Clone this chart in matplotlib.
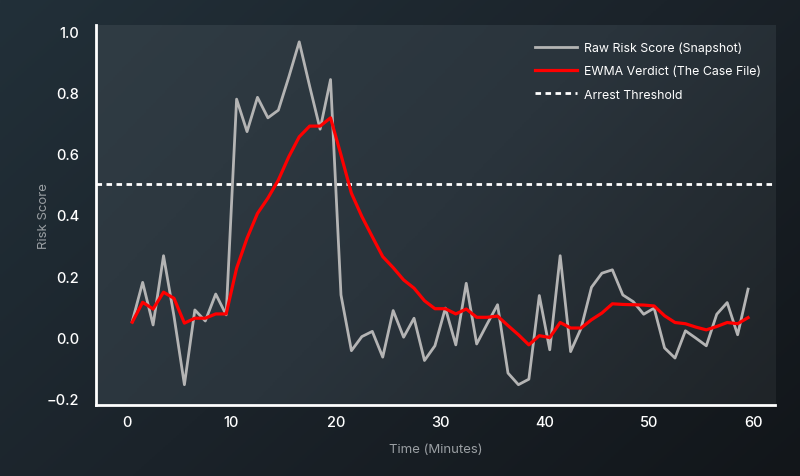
import numpy as np
import matplotlib
matplotlib.use("Agg")
import matplotlib.pyplot as plt
from matplotlib.colors import LinearSegmentedColormap

plt.rcParams['font.family'] = ['Inter', 'DejaVu Sans']

# minutes, one sample per minute
minutes = np.arange(60) + 0.5

raw_score = [0.052, 0.18, 0.041, 0.267, 0.07, -0.154, 0.09, 0.054, 0.142, 0.074,
             0.778, 0.672, 0.784, 0.717, 0.742, 0.85, 0.965, 0.82, 0.68, 0.842,
             0.139, -0.043, 0.003, 0.02, -0.064, 0.088, 0.001, 0.063, -0.075, -0.027,
             0.096, -0.024, 0.177, -0.021, 0.044, 0.107, -0.116, -0.154, -0.136, 0.137,
             -0.04, 0.267, -0.046, 0.03, 0.164, 0.21, 0.221, 0.139, 0.117, 0.076,
             0.096, -0.034, -0.067, 0.022, -0.002, -0.027, 0.076, 0.114, 0.009, 0.158]

ewma_score = [0.05, 0.115, 0.093, 0.148, 0.128, 0.047, 0.063, 0.063, 0.077, 0.077,
              0.226, 0.324, 0.405, 0.455, 0.514, 0.59, 0.655, 0.69, 0.69, 0.717,
              0.596, 0.471, 0.395, 0.329, 0.264, 0.228, 0.188, 0.161, 0.12, 0.094,
              0.094, 0.077, 0.093, 0.066, 0.066, 0.07, 0.039, 0.009, -0.024, 0.006,
              0.0, 0.049, 0.031, 0.031, 0.058, 0.08, 0.11, 0.108, 0.107, 0.106,
              0.103, 0.071, 0.049, 0.045, 0.034, 0.025, 0.036, 0.049, 0.045, 0.065]

threshold = 0.5

fig = plt.figure(figsize=(8, 4.77), dpi=100)

# background gradient for the whole figure
bg = fig.add_axes([0, 0, 1, 1], zorder=-10)
yy, xx = np.mgrid[0:1:200j, 0:1:300j]
bg_cmap = LinearSegmentedColormap.from_list('bg', ['#223039', '#1b232a', '#12161a'])
bg.imshow((xx * 0.6 + yy * 0.4), cmap=bg_cmap, aspect='auto', extent=[0, 1, 0, 1])
bg.axis('off')

ax = fig.add_axes([0.12, 0.149, 0.849, 0.7965])
ax.set_facecolor('none')
panel_cmap = LinearSegmentedColormap.from_list('panel', ['#303c44', '#2a343c', '#1f2428'])
ax.imshow((xx * 0.65 + yy * 0.35), cmap=panel_cmap, aspect='auto', extent=[0, 1, 0, 1],
          transform=ax.transAxes, zorder=0)

ax.plot(minutes, raw_score, color='#b4b4b4', lw=2, label='Raw Risk Score (Snapshot)', zorder=3)
ax.plot(minutes, ewma_score, color='#ff0000', lw=2.3, label='EWMA Verdict (The Case File)', zorder=4)
ax.axhline(threshold, color='white', lw=2, dashes=(2, 1.6), label='Arrest Threshold', zorder=2)

ax.set_xlim(-2.97, 62.1)
ax.set_ylim(-0.22, 1.02)
ax.set_xticks([0, 10, 20, 30, 40, 50, 60])
ax.set_yticks([-0.2, 0.0, 0.2, 0.4, 0.6, 0.8, 1.0])
ax.set_yticklabels(['\u22120.2', '0.0', '0.2', '0.4', '0.6', '0.8', '1.0'])
ax.tick_params(colors='white', labelsize=10.5, length=0)
ax.tick_params(axis='x', pad=7)
ax.tick_params(axis='y', pad=12)
for lab in ax.get_xticklabels() + ax.get_yticklabels():
    lab.set_fontweight('medium')

for side in ['top', 'right']:
    ax.spines[side].set_visible(False)
for side in ['left', 'bottom']:
    ax.spines[side].set_color('white')
    ax.spines[side].set_linewidth(2)

ax.set_xlabel('Time (Minutes)', color='#9a9fa3', fontsize=9.5, labelpad=10)
ax.set_ylabel('Risk Score', color='#9a9fa3', fontsize=9.5, labelpad=-2)

leg = ax.legend(loc='upper right', frameon=False, fontsize=8.9, handlelength=3.4,
                handletextpad=0.5, labelspacing=0.9, bbox_to_anchor=(0.995, 0.985))
for t in leg.get_texts():
    t.set_color('white')

plt.savefig('out.png', dpi=100)
